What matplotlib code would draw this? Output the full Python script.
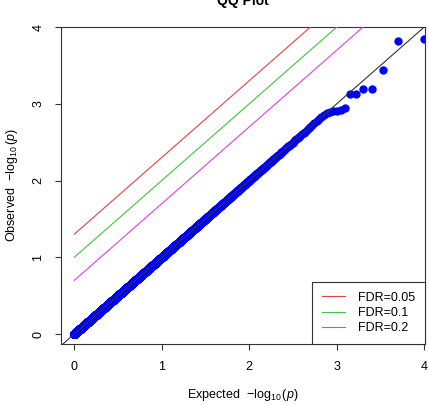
import numpy as np
import matplotlib
matplotlib.use("Agg")
import matplotlib.pyplot as plt

plt.rcParams['font.family'] = ['Liberation Sans', 'DejaVu Sans']
plt.rcParams['mathtext.fontset'] = 'custom'
plt.rcParams['mathtext.rm'] = 'Liberation Sans'
plt.rcParams['mathtext.it'] = 'Liberation Sans:italic'

# number of tests; the bulk of observed p-values sits on the null diagonal
n_tests = 10000
top_observed = [3.85, 3.82, 3.44, 3.19, 3.19, 3.13, 3.13,
                2.94, 2.92, 2.91, 2.90, 2.89, 2.88]

fdr_levels = [0.05, 0.1, 0.2]
fdr_labels = ["FDR=0.05", "FDR=0.1", "FDR=0.2"]
fdr_colors = ["#E8403F", "#3FC43F", "#E040E0"]

ticks = [0, 1, 2, 3, 4]

expected = -np.log10(np.arange(1, n_tests + 1) / (n_tests + 1))
observed = expected.copy()
observed[:len(top_observed)] = top_observed

fig = plt.figure(figsize=(4.29, 4.05), dpi=100)
ax = fig.add_axes([61 / 429, 1 - 344 / 405, 364 / 429, 317 / 405])

ax.plot(expected, observed, 'o', color='#0000FF', markersize=6,
        markeredgewidth=0, zorder=2, rasterized=True)

xlim = (-0.152, 4.008)
ylim = (-0.13, 4.0)
xs = np.array([-1, 6])
ax.plot(xs, xs, color='#333333', lw=0.8, zorder=3)
for lvl, lab, col in zip(fdr_levels, fdr_labels, fdr_colors):
    x0 = np.array([0, 6])
    ax.plot(x0, x0 - np.log10(lvl), color=col, lw=0.8, label=lab, zorder=3)

ax.set_xlim(xlim)
ax.set_ylim(ylim)
ax.set_xticks(ticks)
ax.set_yticks(ticks)
ax.tick_params(direction='out', length=4, width=0.8, labelsize=9, pad=8,
               color='#333333')
for lab in ax.get_yticklabels():
    lab.set_rotation(90)
    lab.set_va('center')
for sp in ax.spines.values():
    sp.set_linewidth(0.8)
    sp.set_color('#333333')

leg = ax.legend(loc='lower right', borderaxespad=0, fancybox=False,
                edgecolor='#333333', framealpha=1, fontsize=9,
                handlelength=1.9, handletextpad=1.0, labelspacing=0.25,
                borderpad=0.8)
leg.get_frame().set_linewidth(0.8)

fig.text(243 / 429, 1 - 5.5 / 405, "QQ Plot", ha='center', va='baseline',
         fontsize=10, fontweight='bold')
fig.text(243 / 429, 1 - 395 / 405, r'Expected  $-\log_{10}(p)$',
         ha='center', va='center', fontsize=9)
fig.text(12 / 429, 1 - 185 / 405, r'Observed  $-\log_{10}(p)$',
         ha='center', va='center', fontsize=9, rotation=90)

fig.savefig('out.png', dpi=100)
